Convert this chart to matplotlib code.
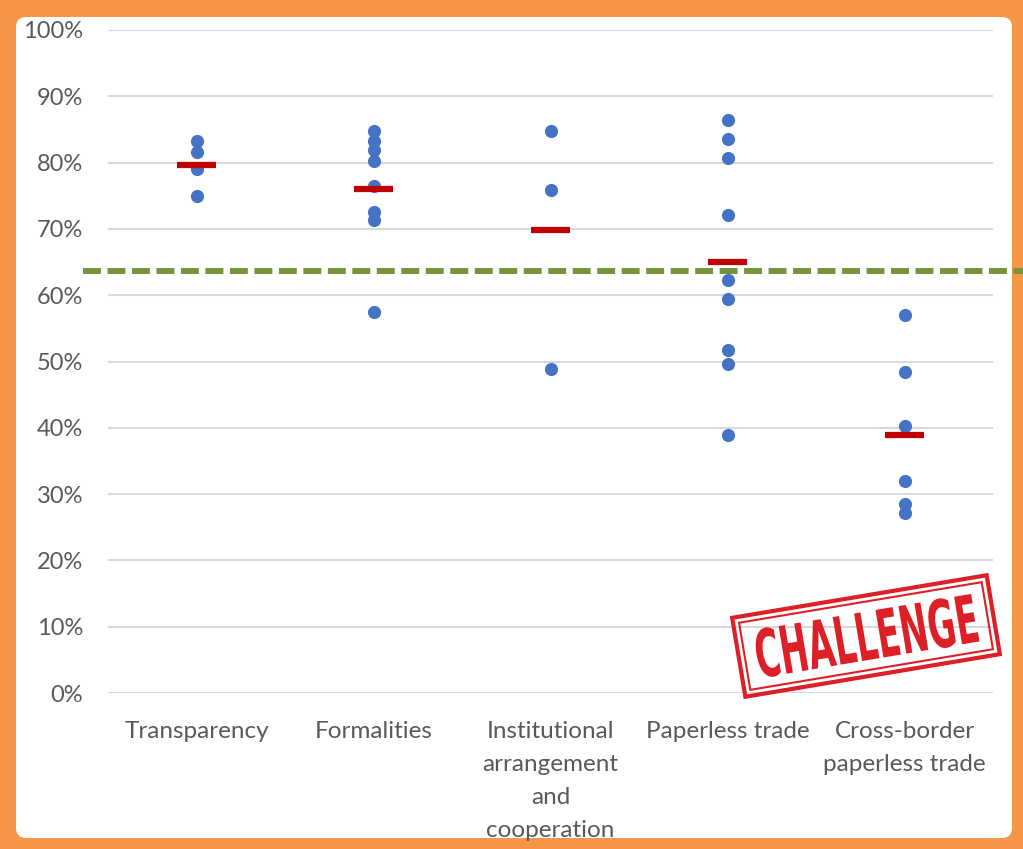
import numpy as np
import matplotlib.pyplot as plt
import matplotlib.patches as mpatches
import matplotlib.transforms as mtransforms
from matplotlib.textpath import TextPath
from matplotlib.font_manager import FontProperties

categories = [
    "Transparency",
    "Formalities",
    "Institutional\narrangement\nand\ncooperation",
    "Paperless trade",
    "Cross-border\npaperless trade",
]

# individual scores (%) per category
transparency = [83.2, 81.6, 79.0, 75.0]
formalities = [84.8, 83.2, 81.9, 80.2, 76.4, 72.6, 71.3, 57.4]
institutional = [84.8, 75.9, 48.9]
paperless = [86.4, 83.6, 80.7, 72.1, 62.3, 59.4, 51.7, 49.6, 38.9]
cross_border = [57.0, 48.4, 40.3, 32.0, 28.5, 27.1]

overall_avg = 63.7
yticks = [0, 10, 20, 30, 40, 50, 60, 70, 80, 90, 100]

series = [transparency, formalities, institutional, paperless, cross_border]

ORANGE = "#F79646"
BLUE = "#4472C4"
DARKRED = "#C00000"
GREEN = "#77933C"
GRID = "#D9D9D9"
TEXT = "#595959"

W, H, DPI = 1023, 849, 100
fig = plt.figure(figsize=(W / DPI, H / DPI), dpi=DPI, facecolor=ORANGE)

# white inner panel with rounded corners (pixel units via inches)
px = 1.0 / DPI
panel = mpatches.FancyBboxPatch(
    (16 * px, 11 * px), (1012 - 16) * px, (832 - 11) * px,
    boxstyle=f"round,pad=0,rounding_size={10 * px}",
    transform=fig.dpi_scale_trans, facecolor="white", edgecolor="none", zorder=-10)
fig.patches.append(panel)

ax = fig.add_axes([108 / W, (H - 693) / H, 885 / W, 663 / H])
ax.set_facecolor("none")
ax.set_xlim(-0.5, len(categories) - 0.5)
ax.set_ylim(0, 100)

for s in ax.spines.values():
    s.set_visible(False)

ax.set_yticks(yticks)
ax.set_yticklabels([f"{v}%" for v in yticks])
ax.yaxis.grid(True, color=GRID, linewidth=1.5, zorder=0)
ax.set_axisbelow(True)
ax.tick_params(axis="y", length=0, pad=18, labelsize=17, labelcolor=TEXT)
for lab in ax.get_yticklabels():
    lab.set_family("Lato")

ax.set_xticks(range(len(categories)))
ax.set_xticklabels(categories, fontsize=17.5, color=TEXT, family="Lato",
                   linespacing=1.72, va="top")
ax.tick_params(axis="x", length=0, pad=20)

for i, vals in enumerate(series):
    ax.scatter([i] * len(vals), vals, s=90, color=BLUE, zorder=3, linewidths=0)
    ax.hlines(np.mean(vals), i - 0.11, i + 0.11, color=DARKRED, linewidth=4.5, zorder=4)

# overall average reference line, running past the plot area
ax.plot([-0.028, 1.04], [overall_avg, overall_avg], color=GREEN, linewidth=4.3,
        dashes=(3, 1.1), transform=ax.get_yaxis_transform(), clip_on=False, zorder=2)

# "CHALLENGE" stamp
cx, cy, ang = 866 * px, (H - 636) * px, 9.5
rot = mtransforms.Affine2D().rotate_deg_around(cx, cy, ang) + fig.dpi_scale_trans
STAMP = "#DD2027"
for bw, bh, lw in [(258, 80, 3.0), (246, 68, 1.5)]:
    r = mpatches.Rectangle((cx - bw * px / 2, cy - bh * px / 2), bw * px, bh * px,
                           fill=False, edgecolor=STAMP, linewidth=lw, transform=rot, zorder=10)
    fig.patches.append(r)

tp = TextPath((0, 0), "CHALLENGE", size=1,
              prop=FontProperties(family="DejaVu Sans", weight="bold"))
ext = tp.get_extents()
tw, th = 222 * px, 50 * px
tr = (mtransforms.Affine2D()
      .translate(-ext.x0, -ext.y0)
      .scale(tw / ext.width, th / ext.height)
      .translate(cx - tw / 2, cy - th / 2))
text_patch = mpatches.PathPatch(tp, facecolor=STAMP, edgecolor="none",
                                transform=tr + rot, zorder=11)
fig.patches.append(text_patch)

fig.savefig("out.png", dpi=DPI, facecolor=ORANGE)
